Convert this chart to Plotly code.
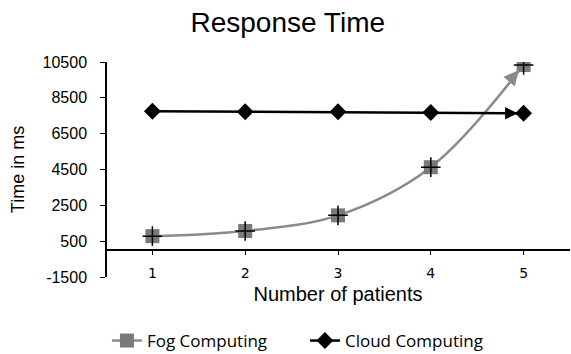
import plotly.graph_objects as go

patients = [1, 2, 3, 4, 5]
fog_ms = [780, 1070, 1940, 4630, 10330]
cloud_ms = [7750, 7720, 7720, 7680, 7640]
y_ticks = [-1500, 500, 2500, 4500, 6500, 8500, 10500]

W, H = 571, 354
ml, mr, mt, mb = 106, 1, 62, 77
y_lo, y_hi = -1500, 10500
zero_pos = (0 - y_lo) / (y_hi - y_lo)

FOG_LINE = "#8a8a8a"
FOG_MARK = "#7a7a7a"

fig = go.Figure()
fig.add_trace(go.Scatter(
    x=patients, y=fog_ms, name="Fog Computing", mode="lines+markers",
    line=dict(color=FOG_LINE, width=2.5, shape="spline", smoothing=1.0),
    marker=dict(symbol="square", size=14, color=FOG_MARK),
))
fig.add_trace(go.Scatter(
    x=patients, y=fog_ms, mode="markers", showlegend=False, hoverinfo="skip",
    marker=dict(symbol="cross-thin", size=14, line=dict(color="black", width=1.5)),
))
fig.add_trace(go.Scatter(
    x=patients, y=cloud_ms, name="Cloud Computing", mode="lines+markers",
    line=dict(color="black", width=2.5),
    marker=dict(symbol="diamond", size=13, color="black"),
))

# arrowheads at the ends of both lines
fig.add_annotation(x=patients[-1], y=fog_ms[-1], xref="x", yref="y",
                   ax=-14, ay=16, axref="pixel", ayref="pixel", text="",
                   showarrow=True, arrowhead=2, arrowsize=1.2, arrowwidth=2.5,
                   arrowcolor=FOG_LINE, standoff=7)
fig.add_annotation(x=patients[-1], y=cloud_ms[-1], xref="x", yref="y",
                   ax=-18, ay=0, axref="pixel", ayref="pixel", text="",
                   showarrow=True, arrowhead=2, arrowsize=1.0, arrowwidth=2.5,
                   arrowcolor="black", standoff=6)

fig.update_layout(
    width=W, height=H,
    margin=dict(l=ml, r=mr, t=mt, b=mb, autoexpand=False),
    paper_bgcolor="white", plot_bgcolor="white",
    title=dict(text="Response Time", x=0.504, xanchor="center",
               y=1 - 22 / H, yref="container", yanchor="middle",
               font=dict(family="Liberation Sans, Arial", size=28, color="black")),
    xaxis=dict(range=[0.5, 5.5], tickvals=patients, ticktext=[str(p) for p in patients],
               anchor="free", position=zero_pos, showline=True, linecolor="black",
               linewidth=1.5, ticks="outside", ticklen=4, tickcolor="black",
               showgrid=False, zeroline=False, ticklabelstandoff=6,
               tickfont=dict(family="DejaVu Sans", size=14, color="black"),
               title=dict(text="Number of patients", standoff=6,
                          font=dict(family="Liberation Sans, Arial", size=20, color="black"))),
    yaxis=dict(range=[y_lo, y_hi], tickvals=y_ticks, ticktext=[str(v) for v in y_ticks],
               anchor="free", position=0, showline=True, linecolor="black",
               linewidth=1.5, ticks="outside", ticklen=5, tickcolor="black",
               showgrid=False, zeroline=False, ticklabelstandoff=10,
               tickfont=dict(family="Liberation Sans, Arial", size=16, color="black"),
               title=dict(text="Time in ms", standoff=12,
                          font=dict(family="Liberation Sans, Arial", size=18, color="black"))),
    legend=dict(orientation="h", x=0.002, xanchor="left", y=(0 - (341 - (H - mb))) / (H - mt - mb),
                yanchor="middle", entrywidth=153,
                font=dict(family="Open Sans", size=17, color="black")),
)

fig.write_html("out.html", config={"displayModeBar": False},
               post_script="document.body.style.margin='0';")
